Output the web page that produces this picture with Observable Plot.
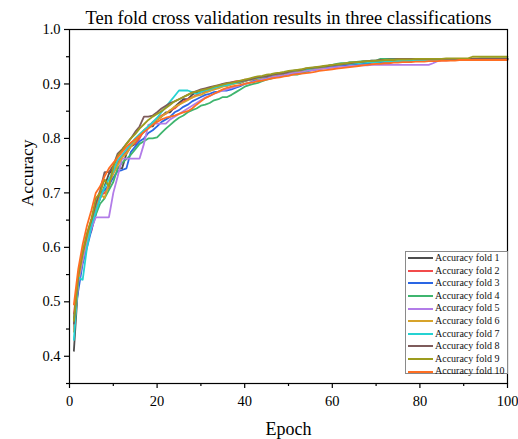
<!DOCTYPE html>
<html>
<head>
<meta charset="utf-8">
<script src="https://cdn.jsdelivr.net/npm/d3@7"></script>
<script src="https://cdn.jsdelivr.net/npm/@observablehq/plot@0.6"></script>
<style>
  html, body { margin: 0; padding: 0; background: #fff; }
  #wrap { position: relative; width: 518px; height: 439px; font-family: "Liberation Serif", "Times New Roman", serif; }
  #legend { position: absolute; left: 405px; top: 251px; width: 103px; height: 123px; border: 1px solid #8a8a8a; background: #fff; box-sizing: border-box; padding-top: 0px; }
  .row { display: flex; align-items: center; height: 12.6px; font-size: 10px; line-height: 12.6px; color: #111; white-space: nowrap; }
  .sw { width: 25px; height: 2px; margin-left: 2px; margin-right: 2px; }
</style>
</head>
<body>
<div id="wrap"><div id="chart"></div><div id="legend"></div></div>
<script>
const titleText = "Ten fold cross validation results in three classifications";
const xLabel = "Epoch";
const yLabel = "Accuracy";
const foldNames = ["Accuracy fold 1","Accuracy fold 2","Accuracy fold 3","Accuracy fold 4","Accuracy fold 5","Accuracy fold 6","Accuracy fold 7","Accuracy fold 8","Accuracy fold 9","Accuracy fold 10"];
const foldColors = ["#4d4d4d","#f24b4b","#2a66e4","#3fb56f","#b27ce8","#d7a32a","#25d2d2","#7e5b5b","#9c9c1e","#ff6e22"];
const xMajorTicks = [0, 20, 40, 60, 80, 100];
const xMinorTicks = [10, 30, 50, 70, 90];
const yMajorTicks = [0.4, 0.5, 0.6, 0.7, 0.8, 0.9, 1.0];
const yMinorTicks = [0.35, 0.45, 0.55, 0.65, 0.75, 0.85, 0.95];

const fold1 = [0.410,0.535,0.575,0.612,0.640,0.668,0.690,0.712,0.735,0.745,
 0.745,0.745,0.772,0.785,0.790,0.805,0.812,0.822,0.822,0.835,
 0.840,0.848,0.848,0.858,0.865,0.872,0.872,0.880,0.885,0.885,
 0.888,0.890,0.890,0.895,0.897,0.897,0.900,0.902,0.902,0.905,
 0.908,0.908,0.910,0.912,0.912,0.915,0.915,0.918,0.918,0.920,
 0.922,0.922,0.925,0.925,0.926,0.928,0.930,0.930,0.932,0.932,
 0.935,0.935,0.936,0.937,0.938,0.938,0.940,0.940,0.940,0.941,
 0.941,0.942,0.942,0.942,0.943,0.943,0.943,0.943,0.944,0.944,
 0.944,0.944,0.944,0.944,0.944,0.945,0.945,0.945,0.945,0.945,
 0.945,0.945,0.945,0.945,0.945,0.946,0.946,0.946,0.946,0.946];
const fold2 = [0.478,0.545,0.580,0.615,0.630,0.668,0.695,0.700,0.710,0.740,
 0.755,0.768,0.775,0.790,0.790,0.800,0.815,0.820,0.830,0.835,
 0.842,0.845,0.852,0.855,0.862,0.868,0.872,0.875,0.880,0.884,
 0.886,0.888,0.892,0.895,0.900,0.900,0.903,0.905,0.905,0.908,
 0.908,0.910,0.912,0.912,0.914,0.915,0.916,0.918,0.920,0.920,
 0.922,0.924,0.924,0.925,0.926,0.928,0.928,0.930,0.931,0.932,
 0.933,0.934,0.935,0.936,0.937,0.937,0.938,0.938,0.939,0.939,
 0.940,0.940,0.940,0.941,0.941,0.941,0.942,0.942,0.942,0.942,
 0.942,0.943,0.943,0.943,0.943,0.943,0.944,0.944,0.944,0.944,
 0.944,0.944,0.944,0.945,0.945,0.945,0.945,0.945,0.945,0.945];
const fold3 = [0.470,0.520,0.570,0.600,0.632,0.660,0.700,0.705,0.715,0.728,
 0.740,0.742,0.745,0.775,0.785,0.795,0.800,0.810,0.815,0.822,
 0.830,0.835,0.840,0.848,0.852,0.858,0.862,0.868,0.872,0.876,
 0.880,0.882,0.885,0.886,0.888,0.888,0.890,0.893,0.896,0.900,
 0.902,0.905,0.906,0.908,0.910,0.912,0.913,0.915,0.916,0.918,
 0.920,0.920,0.922,0.924,0.925,0.926,0.928,0.929,0.930,0.931,
 0.932,0.933,0.934,0.935,0.936,0.937,0.937,0.938,0.939,0.940,
 0.940,0.941,0.941,0.941,0.942,0.942,0.942,0.943,0.943,0.943,
 0.943,0.943,0.944,0.944,0.944,0.944,0.944,0.944,0.945,0.945,
 0.945,0.945,0.945,0.945,0.945,0.946,0.946,0.946,0.946,0.946];
const fold4 = [0.455,0.540,0.580,0.612,0.640,0.660,0.680,0.690,0.705,0.720,
 0.745,0.755,0.762,0.770,0.780,0.790,0.795,0.800,0.800,0.802,
 0.810,0.818,0.825,0.832,0.838,0.842,0.848,0.852,0.855,0.860,
 0.862,0.865,0.870,0.872,0.876,0.876,0.880,0.885,0.890,0.895,
 0.898,0.900,0.902,0.905,0.908,0.910,0.912,0.915,0.917,0.917,
 0.917,0.917,0.920,0.922,0.925,0.928,0.930,0.932,0.933,0.935,
 0.937,0.938,0.938,0.940,0.940,0.941,0.942,0.942,0.943,0.943,
 0.946,0.946,0.946,0.946,0.946,0.946,0.946,0.946,0.946,0.946,
 0.946,0.946,0.946,0.946,0.946,0.946,0.946,0.946,0.946,0.946,
 0.946,0.946,0.946,0.947,0.947,0.947,0.947,0.947,0.947,0.947];
const fold5 = [0.450,0.535,0.575,0.610,0.635,0.655,0.655,0.655,0.655,0.700,
 0.730,0.763,0.763,0.763,0.763,0.763,0.790,0.825,0.827,0.827,
 0.827,0.827,0.835,0.840,0.845,0.850,0.855,0.860,0.865,0.870,
 0.875,0.878,0.882,0.885,0.888,0.890,0.893,0.895,0.898,0.900,
 0.902,0.904,0.906,0.908,0.910,0.912,0.914,0.915,0.916,0.918,
 0.920,0.921,0.922,0.924,0.925,0.926,0.927,0.928,0.929,0.930,
 0.931,0.932,0.932,0.933,0.933,0.934,0.934,0.934,0.935,0.935,
 0.935,0.935,0.935,0.935,0.935,0.935,0.935,0.935,0.935,0.935,
 0.935,0.935,0.938,0.942,0.944,0.944,0.944,0.945,0.945,0.945,
 0.945,0.945,0.945,0.945,0.945,0.946,0.946,0.946,0.946,0.946];
const fold6 = [0.445,0.540,0.585,0.620,0.650,0.675,0.700,0.690,0.718,0.735,
 0.750,0.765,0.772,0.785,0.795,0.805,0.815,0.822,0.828,0.835,
 0.840,0.846,0.852,0.858,0.862,0.866,0.870,0.875,0.878,0.880,
 0.884,0.887,0.890,0.892,0.895,0.897,0.899,0.901,0.903,0.905,
 0.907,0.909,0.910,0.912,0.914,0.916,0.917,0.919,0.920,0.922,
 0.923,0.924,0.925,0.927,0.928,0.929,0.930,0.931,0.933,0.934,
 0.935,0.936,0.937,0.938,0.938,0.939,0.940,0.940,0.941,0.941,
 0.942,0.942,0.942,0.943,0.943,0.943,0.943,0.944,0.944,0.944,
 0.944,0.944,0.944,0.944,0.945,0.945,0.945,0.945,0.945,0.945,
 0.945,0.945,0.946,0.946,0.946,0.946,0.946,0.946,0.946,0.946];
const fold7 = [0.430,0.545,0.540,0.600,0.640,0.665,0.690,0.710,0.725,0.740,
 0.760,0.770,0.780,0.790,0.800,0.808,0.815,0.822,0.830,0.838,
 0.848,0.858,0.868,0.878,0.888,0.888,0.888,0.885,0.882,0.885,
 0.888,0.890,0.893,0.895,0.897,0.898,0.900,0.902,0.904,0.906,
 0.908,0.910,0.911,0.913,0.914,0.916,0.918,0.920,0.921,0.922,
 0.924,0.925,0.926,0.927,0.928,0.930,0.931,0.932,0.933,0.934,
 0.935,0.936,0.937,0.937,0.938,0.938,0.939,0.939,0.940,0.940,
 0.941,0.941,0.941,0.942,0.942,0.942,0.942,0.943,0.943,0.943,
 0.943,0.943,0.944,0.944,0.944,0.944,0.944,0.945,0.945,0.945,
 0.945,0.945,0.945,0.945,0.945,0.945,0.946,0.946,0.946,0.946];
const fold8 = [0.460,0.550,0.590,0.625,0.650,0.680,0.705,0.738,0.738,0.750,
 0.772,0.780,0.790,0.800,0.812,0.822,0.840,0.840,0.842,0.848,
 0.855,0.860,0.865,0.868,0.872,0.876,0.880,0.884,0.887,0.890,
 0.892,0.894,0.896,0.898,0.900,0.902,0.903,0.904,0.905,0.906,
 0.908,0.910,0.912,0.913,0.914,0.916,0.918,0.919,0.920,0.922,
 0.924,0.925,0.926,0.928,0.929,0.930,0.931,0.932,0.933,0.934,
 0.935,0.936,0.937,0.938,0.939,0.940,0.941,0.942,0.943,0.943,
 0.944,0.944,0.945,0.945,0.946,0.946,0.946,0.946,0.946,0.946,
 0.946,0.946,0.946,0.946,0.946,0.946,0.946,0.946,0.946,0.946,
 0.946,0.946,0.946,0.946,0.946,0.946,0.946,0.946,0.946,0.946];
const fold9 = [0.465,0.550,0.592,0.625,0.652,0.690,0.700,0.725,0.712,0.748,
 0.768,0.778,0.790,0.800,0.808,0.818,0.826,0.834,0.840,0.845,
 0.850,0.856,0.862,0.868,0.872,0.876,0.880,0.884,0.886,0.888,
 0.890,0.892,0.895,0.897,0.899,0.901,0.902,0.904,0.906,0.908,
 0.910,0.912,0.914,0.915,0.917,0.918,0.920,0.921,0.922,0.924,
 0.925,0.926,0.927,0.929,0.930,0.931,0.932,0.933,0.934,0.935,
 0.936,0.937,0.938,0.939,0.940,0.940,0.941,0.942,0.942,0.943,
 0.943,0.944,0.944,0.944,0.945,0.945,0.945,0.945,0.946,0.946,
 0.946,0.946,0.946,0.946,0.946,0.947,0.947,0.947,0.947,0.947,
 0.947,0.950,0.950,0.950,0.950,0.950,0.950,0.950,0.950,0.950];
const fold10 = [0.495,0.560,0.605,0.640,0.668,0.700,0.712,0.730,0.745,0.755,
 0.765,0.775,0.785,0.792,0.798,0.805,0.812,0.818,0.825,0.830,
 0.835,0.838,0.840,0.842,0.845,0.848,0.850,0.855,0.862,0.868,
 0.874,0.878,0.882,0.886,0.890,0.893,0.895,0.897,0.898,0.900,
 0.902,0.903,0.905,0.906,0.908,0.910,0.911,0.912,0.914,0.915,
 0.917,0.918,0.919,0.920,0.921,0.922,0.924,0.925,0.926,0.927,
 0.928,0.929,0.930,0.931,0.932,0.933,0.934,0.935,0.936,0.937,
 0.937,0.938,0.938,0.939,0.939,0.940,0.940,0.940,0.941,0.941,
 0.941,0.942,0.942,0.942,0.943,0.943,0.943,0.943,0.944,0.944,
 0.944,0.944,0.944,0.944,0.944,0.944,0.944,0.944,0.944,0.944];

const folds = [fold1, fold2, fold3, fold4, fold5, fold6, fold7, fold8, fold9, fold10];
const table = folds.flatMap((vals, i) => vals.map((v, j) => ({epoch: j + 1, acc: v, fold: foldNames[i]})));

const fontFamily = '"Liberation Serif", "Times New Roman", serif';

const chart = Plot.plot({
  width: 518,
  height: 439,
  marginLeft: 69,
  marginRight: 11,
  marginTop: 29,
  marginBottom: 56,
  style: {fontFamily, fontSize: "14.5px", color: "#000", background: "#fff", overflow: "visible"},
  x: {domain: [0, 100], axis: null},
  y: {domain: [0.35, 1.0], axis: null},
  color: {domain: foldNames, range: foldColors},
  marks: [
    Plot.line(table, {x: "epoch", y: "acc", z: "fold", stroke: "fold", strokeWidth: 1.8, strokeLinejoin: "miter"}),
    Plot.frame({stroke: "#000", strokeWidth: 1.2}),
    Plot.axisX({ticks: xMajorTicks, tickSize: 5, tickPadding: 7, tickFormat: d3.format("d"), label: null, fontSize: 14.5, strokeWidth: 1.2}),
    Plot.axisX({ticks: xMinorTicks, tickSize: 3, text: null, label: null, strokeWidth: 1.2}),
    Plot.axisY({ticks: yMajorTicks, tickSize: 5, tickPadding: 4, tickFormat: d3.format(".1f"), label: null, fontSize: 14.5, strokeWidth: 1.2}),
    Plot.axisY({ticks: yMinorTicks, tickSize: 3, text: null, label: null, strokeWidth: 1.2}),
    Plot.text([titleText], {frameAnchor: "top", dy: -11, lineAnchor: "middle", fontSize: 18.5, fill: "#000"}),
    Plot.text([xLabel], {frameAnchor: "bottom", dy: 46, lineAnchor: "middle", fontSize: 18, fill: "#000"}),
    Plot.text([yLabel], {frameAnchor: "left", dx: -42, rotate: -90, lineAnchor: "middle", fontSize: 17.5, fill: "#000"})
  ]
});
document.getElementById("chart").appendChild(chart);

const legend = document.getElementById("legend");
foldNames.forEach((name, i) => {
  const row = document.createElement("div");
  row.className = "row";
  const sw = document.createElement("span");
  sw.className = "sw";
  sw.style.background = foldColors[i];
  const t = document.createElement("span");
  t.textContent = name;
  row.appendChild(sw);
  row.appendChild(t);
  legend.appendChild(row);
});
</script>
</body>
</html>
